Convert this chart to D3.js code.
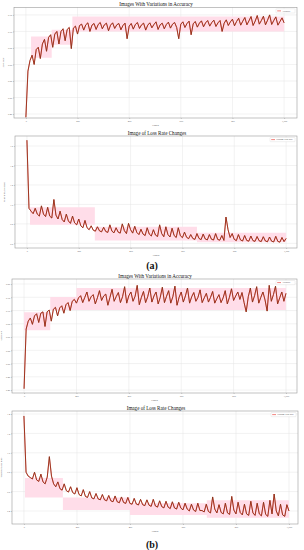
<!DOCTYPE html>
<html>
<head>
<meta charset="utf-8">
<script src="https://cdn.jsdelivr.net/npm/d3@7"></script>
<style>
  html, body { margin: 0; padding: 0; background: #fff; }
  svg { display: block; }
</style>
</head>
<body>
<svg id="chart" width="304" height="550"></svg>
<script>
// epochs sampled every 8 epochs, 0..1000
const epochs = d3.range(0, 1001, 8);

const accA = [
  0.440, 0.580, 0.612, 0.628, 0.600, 0.645, 0.652, 0.618, 0.662, 0.676,
  0.640, 0.682, 0.690, 0.652, 0.692, 0.700, 0.662, 0.700, 0.708, 0.672,
  0.706, 0.712, 0.648, 0.710, 0.716, 0.692, 0.718, 0.722, 0.704, 0.720,
  0.726, 0.700, 0.719, 0.724, 0.706, 0.721, 0.727, 0.708, 0.720, 0.725,
  0.702, 0.719, 0.726, 0.709, 0.720, 0.724, 0.705, 0.718, 0.725, 0.678,
  0.716, 0.724, 0.707, 0.721, 0.727, 0.709, 0.720, 0.725, 0.704, 0.719,
  0.726, 0.711, 0.721, 0.729, 0.706, 0.720, 0.725, 0.708, 0.721, 0.728,
  0.710, 0.722, 0.727, 0.712, 0.678, 0.722, 0.729, 0.712, 0.724, 0.731,
  0.690, 0.723, 0.730, 0.713, 0.725, 0.732, 0.714, 0.726, 0.733, 0.716,
  0.727, 0.734, 0.715, 0.726, 0.733, 0.700, 0.725, 0.735, 0.718, 0.729,
  0.737, 0.717, 0.730, 0.740, 0.719, 0.731, 0.742, 0.720, 0.732, 0.745,
  0.718, 0.731, 0.748, 0.722, 0.733, 0.746, 0.720, 0.734, 0.750, 0.721,
  0.733, 0.744, 0.719, 0.730, 0.741, 0.726
];
const lossA = [
  1.660, 0.960, 0.930, 0.905, 0.960, 0.900, 0.880, 0.985, 0.900, 0.875,
  0.970, 0.880, 0.860, 1.050, 0.890, 0.850, 0.930, 0.845, 0.820, 0.900,
  0.830, 0.805, 0.880, 0.810, 0.790, 0.850, 0.780, 0.760, 0.835, 0.760,
  0.740, 0.780, 0.735, 0.725, 0.770, 0.728, 0.718, 0.765, 0.722, 0.712,
  0.790, 0.725, 0.708, 0.760, 0.715, 0.705, 0.800, 0.730, 0.700, 0.805,
  0.740, 0.705, 0.775, 0.712, 0.690, 0.745, 0.695, 0.680, 0.760, 0.695,
  0.675, 0.740, 0.685, 0.670, 0.790, 0.700, 0.668, 0.770, 0.690, 0.665,
  0.755, 0.680, 0.660, 0.760, 0.678, 0.658, 0.715, 0.662, 0.648, 0.690,
  0.650, 0.640, 0.700, 0.650, 0.638, 0.695, 0.645, 0.635, 0.690, 0.642,
  0.634, 0.700, 0.640, 0.632, 0.680, 0.630, 0.870, 0.740, 0.660, 0.700,
  0.640, 0.628, 0.690, 0.635, 0.624, 0.680, 0.630, 0.622, 0.675, 0.628,
  0.620, 0.670, 0.626, 0.618, 0.668, 0.624, 0.616, 0.665, 0.622, 0.614,
  0.672, 0.620, 0.612, 0.660, 0.618, 0.650
];
const accB = [
  0.405, 0.630, 0.660, 0.672, 0.648, 0.680, 0.688, 0.655, 0.690, 0.695,
  0.640, 0.695, 0.702, 0.660, 0.705, 0.712, 0.680, 0.710, 0.718, 0.690,
  0.722, 0.730, 0.700, 0.735, 0.742, 0.728, 0.748, 0.756, 0.730, 0.750,
  0.770, 0.735, 0.752, 0.760, 0.725, 0.748, 0.775, 0.738, 0.755, 0.762,
  0.720, 0.750, 0.780, 0.735, 0.753, 0.768, 0.730, 0.752, 0.790, 0.728,
  0.756, 0.770, 0.735, 0.754, 0.795, 0.722, 0.750, 0.772, 0.730, 0.752,
  0.785, 0.732, 0.755, 0.770, 0.725, 0.750, 0.788, 0.730, 0.754, 0.775,
  0.728, 0.752, 0.792, 0.720, 0.750, 0.770, 0.732, 0.755, 0.785, 0.728,
  0.752, 0.768, 0.735, 0.750, 0.778, 0.730, 0.748, 0.765, 0.732, 0.750,
  0.772, 0.728, 0.745, 0.760, 0.730, 0.748, 0.775, 0.725, 0.750, 0.782,
  0.738, 0.755, 0.770, 0.742, 0.768, 0.730, 0.695, 0.752, 0.785, 0.732,
  0.756, 0.790, 0.728, 0.750, 0.770, 0.740, 0.698, 0.795, 0.735, 0.760,
  0.792, 0.725, 0.748, 0.770, 0.735, 0.765
];
const lossB = [
  1.380, 0.800, 0.760, 0.745, 0.730, 0.800, 0.720, 0.705, 0.780, 0.700,
  0.680, 0.750, 0.960, 0.760, 0.680, 0.650, 0.700, 0.630, 0.615, 0.680,
  0.610, 0.595, 0.650, 0.590, 0.575, 0.640, 0.570, 0.555, 0.620, 0.550,
  0.540, 0.600, 0.535, 0.525, 0.580, 0.525, 0.515, 0.570, 0.515, 0.505,
  0.560, 0.505, 0.495, 0.555, 0.495, 0.485, 0.545, 0.488, 0.478, 0.540,
  0.478, 0.470, 0.530, 0.472, 0.462, 0.520, 0.465, 0.455, 0.515, 0.460,
  0.448, 0.520, 0.452, 0.440, 0.505, 0.445, 0.432, 0.500, 0.440, 0.425,
  0.495, 0.432, 0.420, 0.490, 0.430, 0.412, 0.480, 0.420, 0.400, 0.470,
  0.410, 0.395, 0.480, 0.405, 0.405, 0.390, 0.470, 0.395, 0.380, 0.545,
  0.420, 0.380, 0.465, 0.385, 0.370, 0.480, 0.380, 0.365, 0.550, 0.410,
  0.370, 0.490, 0.385, 0.360, 0.470, 0.370, 0.355, 0.500, 0.380, 0.355,
  0.480, 0.370, 0.350, 0.490, 0.365, 0.345, 0.510, 0.370, 0.575, 0.400,
  0.350, 0.470, 0.360, 0.345, 0.465, 0.400
];

// pink range bands (stepped)
const bandEpochsAccA = [20, 100, 180, 1000];
const bandLoAccA = [0.620, 0.660, 0.700, 0.700];
const bandHiAccA = [0.685, 0.705, 0.745, 0.745];
const bandEpochsLossA = [12, 262, 656, 1000];
const bandLoLossA = [0.790, 0.630, 0.610, 0.610];
const bandHiLossA = [0.970, 0.770, 0.710, 0.710];
const bandEpochsAccB = [0, 100, 200, 1000];
const bandLoAccB = [0.626, 0.702, 0.702, 0.702];
const bandHiAccB = [0.694, 0.751, 0.785, 0.785];
const bandEpochsLossB = [4, 147, 400, 690, 1000];
const bandLoLossB = [0.540, 0.410, 0.360, 0.330, 0.330];
const bandHiLossB = [0.740, 0.540, 0.480, 0.510, 0.510];

const xTicks = [0, 200, 400, 600, 800, 1000];
const accTicksA = [0.45, 0.50, 0.55, 0.60, 0.65, 0.70, 0.75];
const lossTicksA = [0.6, 0.8, 1.0, 1.2, 1.4, 1.6];
const accTicksB = [0.40, 0.45, 0.50, 0.55, 0.60, 0.65, 0.70, 0.75, 0.80];
const lossTicksB = [0.4, 0.6, 0.8, 1.0, 1.2, 1.4];

const svg = d3.select('#chart');

function drawPanel(p) {
  const x = d3.scaleLinear().domain(p.xDom).range([p.left, p.right]);
  const y = d3.scaleLinear().domain(p.yDom).range([p.bottom, p.top]);
  const g = svg.append('g');

  // grid
  g.append('g').selectAll('line').data(p.yTicks).enter().append('line')
    .attr('x1', p.left).attr('x2', p.right)
    .attr('y1', d => y(d)).attr('y2', d => y(d))
    .attr('stroke', '#e4e4e4').attr('stroke-width', 0.5);
  g.append('g').selectAll('line').data(xTicks).enter().append('line')
    .attr('y1', p.top).attr('y2', p.bottom)
    .attr('x1', d => x(d)).attr('x2', d => x(d))
    .attr('stroke', '#e4e4e4').attr('stroke-width', 0.5);

  // band
  const band = p.bandX.map((e, i) => ({ e, lo: p.bandLo[i], hi: p.bandHi[i] }));
  g.append('path').datum(band)
    .attr('d', d3.area().curve(d3.curveStepAfter)
      .x(d => x(d.e)).y0(d => y(d.lo)).y1(d => y(d.hi)))
    .attr('fill', '#ffdde9');

  // series
  const pts = epochs.map((e, i) => ({ e, v: p.values[i] }));
  const line = d3.line().x(d => x(d.e)).y(d => y(d.v));
  g.append('path').datum(pts).attr('d', line)
    .attr('fill', 'none').attr('stroke', '#e8302a').attr('stroke-width', 1.0)
    .attr('stroke-linejoin', 'round');
  g.append('path').datum(pts).attr('d', line)
    .attr('fill', 'none').attr('stroke', '#4a3d16').attr('stroke-width', 0.55)
    .attr('stroke-opacity', 0.85).attr('stroke-linejoin', 'round');

  // frame
  g.append('rect')
    .attr('x', p.left).attr('y', p.top)
    .attr('width', p.right - p.left).attr('height', p.bottom - p.top)
    .attr('fill', 'none').attr('stroke', '#9a9a9a').attr('stroke-width', 0.6);

  // axes
  const xAxis = d3.axisBottom(x).tickValues(xTicks).tickSize(1).tickPadding(0.8);
  const ax = g.append('g').attr('transform', `translate(0,${p.bottom})`).call(xAxis);
  const yAxis = d3.axisLeft(y).tickValues(p.yTicks).tickSize(1).tickPadding(0.8)
    .tickFormat(p.fmt);
  const ay = g.append('g').attr('transform', `translate(${p.left},0)`).call(yAxis);
  [ax, ay].forEach(a => {
    a.select('.domain').remove();
    a.selectAll('line').attr('stroke', '#888').attr('stroke-width', 0.4);
    a.selectAll('text').attr('fill', '#555').style('font-size', '2.4px')
      .style('font-family', 'Liberation Serif, serif');
  });

  // title & labels
  g.append('text').attr('x', p.titleX).attr('y', p.titleY)
    .attr('text-anchor', 'middle').attr('fill', '#111')
    .style('font-family', 'Liberation Serif, serif').style('font-size', '5.1px')
    .text(p.title);
  g.append('text').attr('x', (p.left + p.right) / 2).attr('y', p.bottom + 7.5)
    .attr('text-anchor', 'middle').attr('fill', '#555')
    .style('font-family', 'Liberation Serif, serif').style('font-size', '2.6px')
    .text('Epoch');
  g.append('text')
    .attr('transform', `translate(${p.left - 10},${(p.top + p.bottom) / 2}) rotate(-90)`)
    .attr('text-anchor', 'middle').attr('fill', '#555')
    .style('font-family', 'Liberation Serif, serif').style('font-size', '2.6px')
    .text(p.ylabel);

  // legend
  const lg = g.append('g').attr('transform', `translate(${p.right - 2 - p.legendW},${p.top + 1.5})`);
  lg.append('rect').attr('width', p.legendW).attr('height', 4.2).attr('rx', 0.6)
    .attr('fill', '#fff').attr('stroke', '#ccc').attr('stroke-width', 0.3);
  lg.append('line').attr('x1', 1.2).attr('x2', 5).attr('y1', 2.1).attr('y2', 2.1)
    .attr('stroke', '#e8302a').attr('stroke-width', 0.6);
  lg.append('text').attr('x', 6).attr('y', 2.9).attr('fill', '#444')
    .style('font-family', 'Liberation Serif, serif').style('font-size', '2.2px')
    .text(p.legend);
}

const fmt2 = d3.format('.2f');
const fmt1 = d3.format('.1f');

drawPanel({
  left: 14, right: 297, top: 7.3, bottom: 118,
  xDom: [-46, 1050], yDom: [0.438, 0.773], yTicks: accTicksA, fmt: fmt2,
  values: accA, bandX: bandEpochsAccA, bandLo: bandLoAccA, bandHi: bandHiAccA,
  title: 'Images With Variations in Accuracy', titleX: 156, titleY: 5.8,
  ylabel: 'Accuracy', legend: 'Accuracy', legendW: 19
});
drawPanel({
  left: 15, right: 297, top: 136, bottom: 248,
  xDom: [-46, 1042], yDom: [0.552, 1.703], yTicks: lossTicksA, fmt: fmt1,
  values: lossA, bandX: bandEpochsLossA, bandLo: bandLoLossA, bandHi: bandHiLossA,
  title: 'Image of Loss Rate Changes', titleX: 157, titleY: 134.8,
  ylabel: 'Training Loss Rate', legend: 'Training Loss Rate', legendW: 25
});
drawPanel({
  left: 12, right: 297, top: 279, bottom: 393,
  xDom: [-46, 1042], yDom: [0.389, 0.819], yTicks: accTicksB, fmt: fmt2,
  values: accB, bandX: bandEpochsAccB, bandLo: bandLoAccB, bandHi: bandHiAccB,
  title: 'Images With Variations in Accuracy', titleX: 155, titleY: 277.6,
  ylabel: 'Accuracy', legend: 'Accuracy', legendW: 19
});
drawPanel({
  left: 12, right: 298, top: 411, bottom: 524,
  xDom: [-45, 1034], yDom: [0.266, 1.431], yTicks: lossTicksB, fmt: fmt1,
  values: lossB, bandX: bandEpochsLossB, bandLo: bandLoLossB, bandHi: bandHiLossB,
  title: 'Image of Loss Rate Changes', titleX: 156, titleY: 409.8,
  ylabel: 'Training Loss Rate', legend: 'Training Loss Rate', legendW: 25
});

// sub-figure captions
svg.append('text').attr('x', 152).attr('y', 268.5).attr('text-anchor', 'middle')
  .style('font-family', 'Liberation Serif, serif').style('font-size', '10px')
  .style('font-weight', 'bold').attr('fill', '#111').text('(a)');
svg.append('text').attr('x', 152).attr('y', 547.5).attr('text-anchor', 'middle')
  .style('font-family', 'Liberation Serif, serif').style('font-size', '10px')
  .style('font-weight', 'bold').attr('fill', '#111').text('(b)');
</script>
</body>
</html>
